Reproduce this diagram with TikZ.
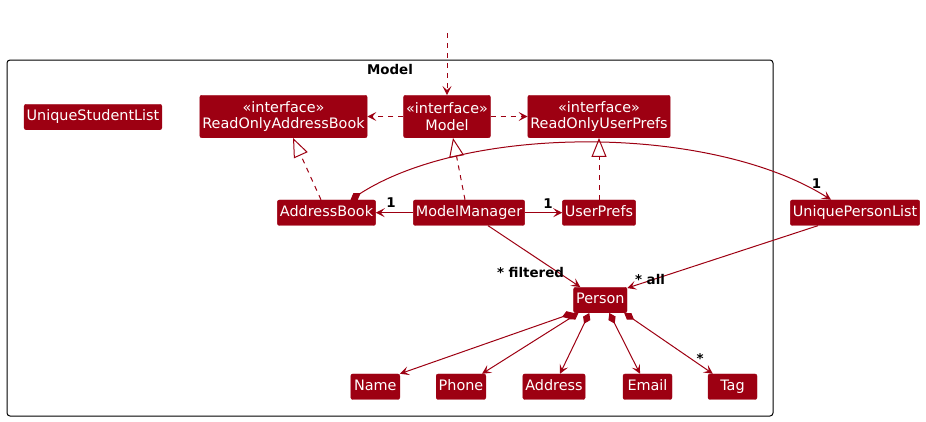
\documentclass[tikz,border=0pt]{standalone}
\usepackage{fontspec}
\setmainfont{DejaVu Sans}
\usetikzlibrary{arrows.meta}
\definecolor{modelred}{HTML}{9D0012}

\begin{document}
\begin{tikzpicture}[x=1pt,y=-1pt,
    box/.style={fill=modelred,draw=modelred,text=white,rounded corners=2pt,
      inner xsep=2.5pt,inner ysep=0pt,font=\fontsize{14.4}{16.7}\selectfont},
    cls/.style={box,minimum width=49pt,minimum height=25.5pt,text height=10.5pt,text depth=3pt},
    iface/.style={box,align=center,minimum height=42.5pt},
    lbl/.style={font=\fontsize{13.4}{15}\selectfont\bfseries,inner sep=0pt,anchor=base},
    rel/.style={modelred,line width=1pt},
    head/.style={-{Stealth[length=9pt,width=9pt,inset=4pt]}},
    dep/.style={rel,head,dash pattern=on 5pt off 5pt},
    assoc/.style={rel,head},
    realize/.style={rel,dash pattern=on 5pt off 5pt,
      -{Triangle[open,length=19pt,width=15pt,fill=white]}},
    comp/.style={rel,{Diamond[length=12pt,width=8pt]}-{Stealth[length=9pt,width=9pt,inset=4pt]}}]
  \useasboundingbox (0,0) rectangle (926,421);
  \draw[line width=1pt,rounded corners=3pt] (7,60) rectangle (773,416);
  \node[lbl] (title) at (390,74.3) {Model};
  \node[cls] (usl) at (93,117) {UniqueStudentList};
  \node[iface] (roab) at (283.5,116.5) {«interface»\\ReadOnlyAddressBook};
  \node[iface] (model) at (447,116.5) {«interface»\\Model};
  \node[iface] (roup) at (599,116.5) {«interface»\\ReadOnlyUserPrefs};
  \node[cls] (ab) at (326.5,212.7) {AddressBook};
  \node[cls] (mm) at (469,212.7) {ModelManager};
  \node[cls] (up) at (599,212.7) {UserPrefs};
  \node[cls] (upl) at (855,212.7) {UniquePersonList};
  \node[cls] (person) at (600.3,300) {Person};
  \node[cls] (name) at (375.3,386.7) {Name};
  \node[cls] (phone) at (461,386.7) {Phone};
  \node[cls] (address) at (554,386.7) {Address};
  \node[cls] (email) at (647.5,386.7) {Email};
  \node[cls] (tag) at (732.5,386.7) {Tag};
  \coordinate (entry) at (447,33);
  \draw[dep] (entry) -- (model.north);
  \draw[dep] (model.west) -- (roab.east);
  \draw[dep] (model.east) -- (roup.west);
  \draw[realize] ([xshift=-5.5pt]ab.north) -- ([xshift=9.5pt]roab.south);
  \draw[realize] ([xshift=-4pt]mm.north) -- ([xshift=6pt]model.south);
  \draw[realize] (up.north) -- (roup.south);
  \draw[assoc] (mm.west) -- (ab.east);
  \draw[assoc] (mm.east) -- (up.west);
  \draw[rel,{Diamond[length=12pt,width=8pt]}-{Stealth[length=9pt,width=9pt,inset=4pt]}]
    ([xshift=24pt]ab.north) .. controls (468,124) and (711,124) .. ([xshift=-24pt]upl.north);
  \draw[assoc] ([xshift=19pt]mm.south) -- ([xshift=-20pt]person.north);
  \draw[assoc] ([xshift=-37pt]upl.south) -- ([yshift=-1pt]person.north east);
  \draw[comp] (person.south west) -- (name.north east);
  \draw[comp] ([xshift=5pt]person.south west) -- ([xshift=-4pt]phone.north east);
  \draw[comp] ([xshift=-11pt]person.south) -- ([xshift=6pt]address.north);
  \draw[comp] ([xshift=9pt]person.south) -- ([xshift=-7.5pt]email.north);
  \draw[comp] ([xshift=-3pt]person.south east) -- ([xshift=5pt]tag.north west);
  \node[lbl] (abmult) at (391,207) {1};
  \node[lbl] (upmult) at (548,208) {1};
  \node[lbl] (uplmult) at (816.5,188) {1};
  \node[lbl] (filtered) at (530.5,277) {* filtered};
  \node[lbl] (all) at (650,284) {* all};
  \node[lbl] (tagmult) at (700,363) {*};
\end{tikzpicture}
\end{document}
